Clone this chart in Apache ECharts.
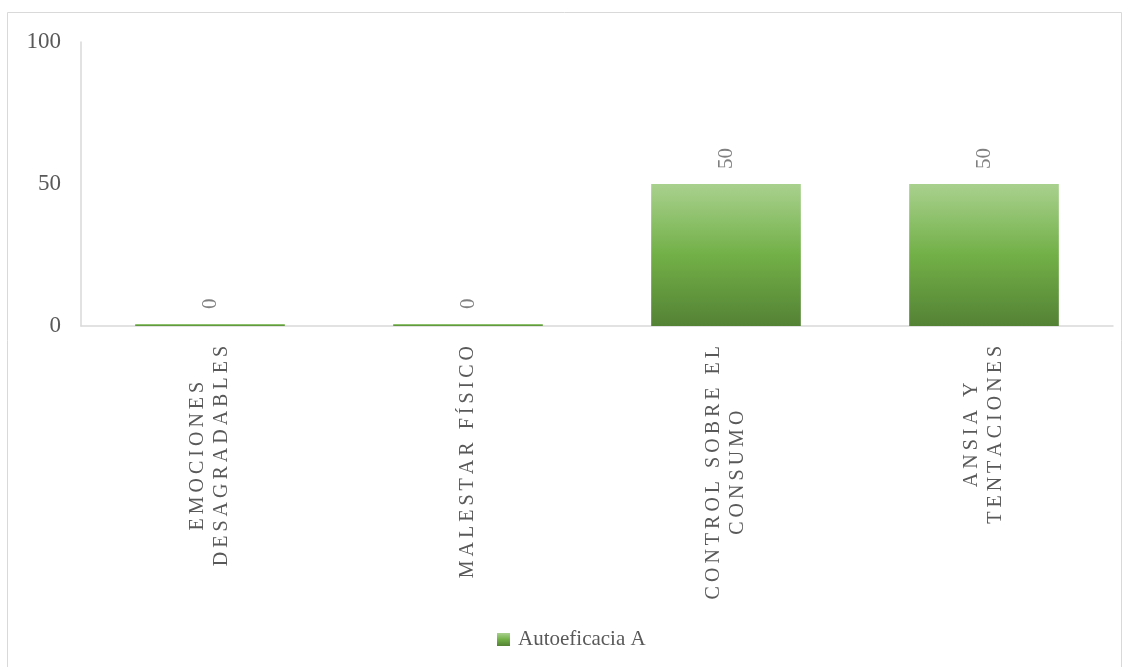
<!DOCTYPE html>
<html>
<head>
<meta charset="utf-8">
<script src="https://cdn.jsdelivr.net/npm/echarts@6/dist/echarts.min.js"></script>
<style>
    html, body { margin: 0; padding: 0; background: #fff; }
    #chart { width: 1130px; height: 667px; }
</style>
</head>
<body>
<div id="chart"></div>
<script>
var categories = ['EMOCIONES\nDESAGRADABLES', 'MALESTAR FÍSICO', 'CONTROL SOBRE EL\nCONSUMO', 'ANSIA Y\nTENTACIONES'];
var values = [0, 0, 50, 50];
var seriesName = 'Autoeficacia A';
var yTicks = [0, 50, 100];

// spread the letters out a bit, like the original spaced caps
function spaced(line) {
    return line.split(' ').map(function (w) {
        return w.split('').join('\u2009');
    }).join('\u2009 \u2009');
}

var chart = echarts.init(document.getElementById('chart'));

var barColor = new echarts.graphic.LinearGradient(0, 0, 0, 1, [
    {offset: 0, color: '#a9d18e'},
    {offset: 0.5, color: '#72b047'},
    {offset: 1, color: '#548235'}
]);

chart.setOption({
    backgroundColor: '#fff',
    animation: false,
    graphic: [{
        type: 'rect',
        shape: {x: 7.5, y: 12.5, width: 1114, height: 660},
        style: {fill: 'none', stroke: '#d9d9d9', lineWidth: 1},
        silent: true
    }],
    grid: {left: 81, right: 17, top: 42, bottom: 341},
    legend: {
        data: [seriesName],
        left: 492,
        top: 624,
        icon: 'rect',
        itemWidth: 13,
        itemHeight: 13,
        textStyle: {color: '#595959', fontSize: 21, fontFamily: 'Liberation Serif', padding: [0, 0, 0, 3]}
    },
    xAxis: {
        type: 'category',
        data: categories,
        axisLine: {lineStyle: {color: '#d9d9d9', width: 1.5}},
        axisTick: {show: false},
        axisLabel: {
            interval: 0,
            rotate: 90,
            margin: 20,
            formatter: function (v) {
                return v.split('\n').map(function (l) {
                    return '{c|' + spaced(l) + '}';
                }).join('\n');
            },
            rich: {
                c: {
                    align: 'center',
                    fontSize: 20,
                    lineHeight: 24,
                    fontFamily: 'Liberation Serif',
                    color: '#595959'
                }
            }
        }
    },
    yAxis: {
        type: 'value',
        min: yTicks[0],
        max: yTicks[yTicks.length - 1],
        interval: yTicks[1] - yTicks[0],
        axisLine: {show: true, lineStyle: {color: '#d9d9d9', width: 1.5}},
        axisTick: {show: false},
        splitLine: {show: false},
        axisLabel: {
            margin: 20,
            color: '#595959',
            fontSize: 23,
            fontFamily: 'Liberation Serif'
        }
    },
    series: [{
        name: seriesName,
        type: 'bar',
        data: values,
        barWidth: '58%',
        barMinHeight: 2,
        itemStyle: {color: barColor},
        label: {
            show: true,
            position: 'top',
            rotate: 90,
            align: 'left',
            verticalAlign: 'middle',
            distance: 15,
            color: '#808080',
            fontSize: 21,
            fontFamily: 'Liberation Serif'
        }
    }]
});
</script>
</body>
</html>
